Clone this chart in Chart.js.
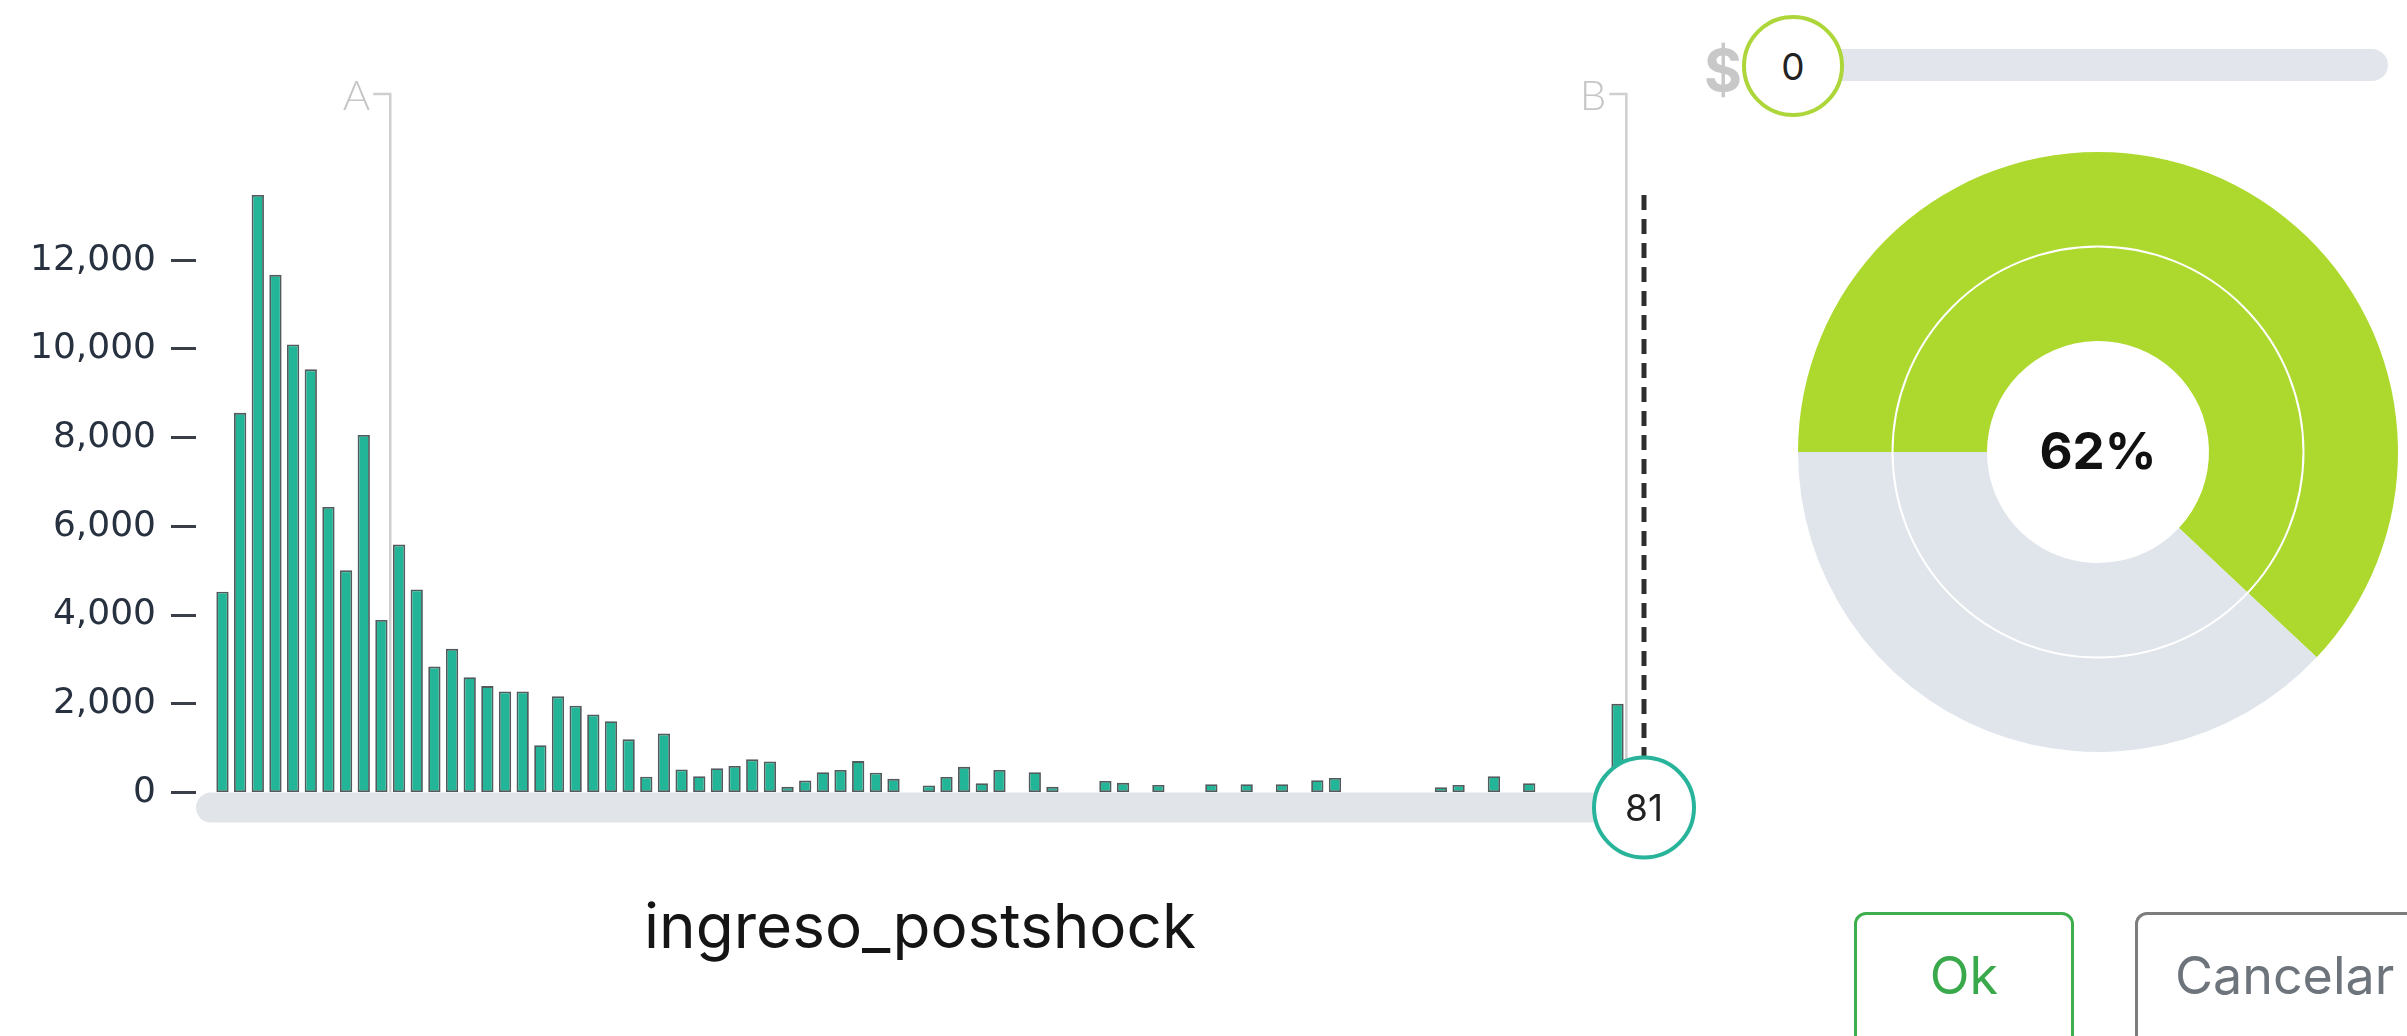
<!DOCTYPE html>
<html>
<head>
<meta charset="utf-8">
<title>ingreso_postshock</title>
<script src="https://cdn.jsdelivr.net/npm/chart.js@4.4.1/dist/chart.umd.min.js"></script>
<style>
  html, body { margin: 0; padding: 0; background: #fff; overflow: hidden; }
  body { width: 2407px; height: 1036px; position: relative; font-family: "Inter", sans-serif; }
  #histWrap { position: absolute; left: 0; top: 0; width: 1720px; height: 1036px; }
  #donutWrap { position: absolute; left: 1798px; top: 152px; width: 600px; height: 600px; }
  .dollar { position: absolute; left: 1704px; top: 41px; font: 700 58px/1 "Inter"; color: #c8c8c8; }
  .track { position: absolute; left: 1793px; top: 49px; width: 595px; height: 32px; border-radius: 16px; background: #e2e6ec; }
  .knob { position: absolute; left: 1742px; top: 15px; width: 102px; height: 102px; box-sizing: border-box;
          border: 4px solid #acd63a; border-radius: 50%; background: #fff; display: flex;
          align-items: center; justify-content: center; font: 400 37px/1 "Inter"; color: #222; }
  .btn { position: absolute; top: 912px; height: 160px; box-sizing: border-box; border-radius: 12px;
         font: 400 52px/52px "Inter"; padding-top: 35px; background: #fff; }
  .ok { left: 1854px; width: 220px; border: 3px solid #3fae4f; color: #3aa94b; text-align: center; }
  .cancel { left: 2135px; width: 330px; border: 3px solid #7d7d7d; color: #6d747b; padding-left: 37px; }
</style>
</head>
<body>
<div id="histWrap"><canvas id="hist"></canvas></div>
<div id="donutWrap"><canvas id="donut"></canvas></div>
<div class="track"></div>
<div class="dollar">$</div>
<div class="knob">0</div>
<div class="btn ok">Ok</div>
<div class="btn cancel">Cancelar</div>
<script>
// histogram counts, one per bin (80 bins)
const binCounts = [
  4530, 8560, 13470, 11670, 10100, 9540, 6440, 5010, 8060, 3890,
  5590, 4580, 2840, 3240, 2600, 2400, 2280, 2280, 1070, 2170,
  1960, 1760, 1610, 1200, 360, 1330, 520, 370, 550, 600,
  750, 700, 130, 270, 460, 510, 710, 450, 310, 0,
  160, 350, 580, 210, 510, 0, 460, 130, 0, 0,
  260, 220, 0, 170, 0, 0, 190, 0, 190, 0,
  190, 0, 280, 330, 0, 0, 0, 0, 0, 120,
  170, 0, 370, 0, 210, 0, 0, 0, 0, 2000
];
const yTickValues = [0, 2000, 4000, 6000, 8000, 10000, 12000];
const axisTitle = "ingreso_postshock";
const markerA = 10;
const markerB = 80;
const selectedValue = 81;
const xMin = -1;
const xMax = 81;

const shareLabels = ["dentro", "fuera"];
const shareValues = [62, 38];

const teal = "#22b597";

const histDecor = {
  id: "histDecor",
  beforeDatasetsDraw(chart) {
    const { ctx, chartArea, scales: { x } } = chart;
    ctx.save();
    ctx.strokeStyle = "#cfcfcf";
    ctx.lineWidth = 2.5;
    ctx.fillStyle = "#c6c6c6";
    ctx.font = "300 42px Lato";
    ctx.textAlign = "right";
    ctx.textBaseline = "alphabetic";
    [["A", markerA], ["B", markerB]].forEach(function (m) {
      const px = x.getPixelForValue(m[1]);
      const topY = chartArea.top - 101;
      ctx.beginPath();
      ctx.moveTo(px - 17, topY);
      ctx.lineTo(px, topY);
      ctx.lineTo(px, chartArea.bottom);
      ctx.stroke();
      ctx.fillText(m[0], px - 20, topY + 16);
    });
    ctx.restore();
  },
  afterDraw(chart) {
    const { ctx, chartArea, scales: { x } } = chart;
    const px = x.getPixelForValue(selectedValue);
    ctx.save();
    // dashed marker
    ctx.strokeStyle = "#2e2e2e";
    ctx.lineWidth = 5;
    ctx.setLineDash([15, 9]);
    ctx.beginPath();
    ctx.moveTo(px, chartArea.top);
    ctx.lineTo(px, chartArea.bottom);
    ctx.stroke();
    ctx.setLineDash([]);
    // slider track
    ctx.fillStyle = "#e1e5ea";
    ctx.beginPath();
    ctx.roundRect(chartArea.left, chartArea.bottom, px - chartArea.left, 30, 15);
    ctx.fill();
    // handle
    const cy = chartArea.bottom + 15;
    ctx.beginPath();
    ctx.arc(px, cy, 50, 0, Math.PI * 2);
    ctx.fillStyle = "#fff";
    ctx.fill();
    ctx.lineWidth = 4;
    ctx.strokeStyle = "#27b49a";
    ctx.stroke();
    ctx.fillStyle = "#222";
    ctx.font = "400 37px Inter";
    ctx.textAlign = "center";
    ctx.textBaseline = "middle";
    ctx.fillText(String(selectedValue), px, cy + 2);
    ctx.restore();
  }
};

new Chart(document.getElementById("hist"), {
  type: "bar",
  data: {
    datasets: [
      {
        data: binCounts.map(function (c, i) { return { x: i + 0.5, y: c }; }),
        backgroundColor: teal,
        borderColor: "#525a5c",
        borderWidth: 1.8,
        borderSkipped: false,
        barPercentage: 0.87,
        categoryPercentage: 0.8,
      },
    ],
  },
  options: {
    responsive: true,
    maintainAspectRatio: false,
    animation: false,
    layout: { padding: { top: 195, right: 76, bottom: 0, left: 0 } },
    plugins: { legend: { display: false }, tooltip: { enabled: false } },
    scales: {
      x: {
        type: "linear",
        offset: false,
        min: xMin,
        max: xMax,
        grid: { display: false, drawTicks: false, offset: false },
        border: { display: false },
        ticks: { display: false },
        title: {
          display: true,
          text: axisTitle,
          color: "#151515",
          font: { family: "Inter", size: 62 },
          padding: { top: 100, bottom: 69 },
        },
      },
      y: {
        min: 0,
        max: Math.max.apply(null, binCounts),
        afterBuildTicks: function (s) {
          s.ticks = yTickValues.map(function (v) { return { value: v }; });
        },
        afterFit: function (s) { s.width = 196; },
        grid: { display: true, drawOnChartArea: false, drawTicks: true, tickLength: 25, tickWidth: 3, tickColor: "#3a3f47" },
        border: { display: false },
        ticks: {
          padding: 15,
          color: "#27313f",
          font: { family: "DejaVu Sans", size: 36 },
          callback: function (v) { return Number(v).toLocaleString("en-US"); },
        },
      },
    },
  },
  plugins: [histDecor],
});

const donutDecor = {
  id: "donutDecor",
  afterDatasetsDraw(chart) {
    const { ctx, chartArea } = chart;
    const arc = chart.getDatasetMeta(0).data[0];
    const cx = (chartArea.left + chartArea.right) / 2;
    const cy = (chartArea.top + chartArea.bottom) / 2;
    ctx.save();
    ctx.strokeStyle = "#fff";
    ctx.lineWidth = 2;
    ctx.beginPath();
    ctx.arc(cx, cy, arc.innerRadius, 0, Math.PI * 2);
    ctx.stroke();
    const total = shareValues.reduce(function (a, b) { return a + b; }, 0);
    ctx.fillStyle = "#111";
    ctx.font = "700 51px Inter";
    ctx.textAlign = "center";
    ctx.textBaseline = "middle";
    ctx.fillText(Math.round(shareValues[0] / total * 100) + "%", cx, cy + 2);
    ctx.restore();
  }
};

const ringColors = ["#add92e", "#e0e5ec"];
new Chart(document.getElementById("donut"), {
  type: "doughnut",
  data: {
    labels: shareLabels,
    datasets: [
      { data: shareValues, backgroundColor: ringColors, borderWidth: 0, hoverOffset: 0 },
      { data: shareValues, backgroundColor: ringColors, borderWidth: 0, hoverOffset: 0 },
    ],
  },
  options: {
    responsive: true,
    maintainAspectRatio: false,
    animation: false,
    rotation: -90,
    cutout: "37%",
    layout: { padding: 0 },
    plugins: { legend: { display: false }, tooltip: { enabled: false } },
  },
  plugins: [donutDecor],
});
</script>
</body>
</html>
